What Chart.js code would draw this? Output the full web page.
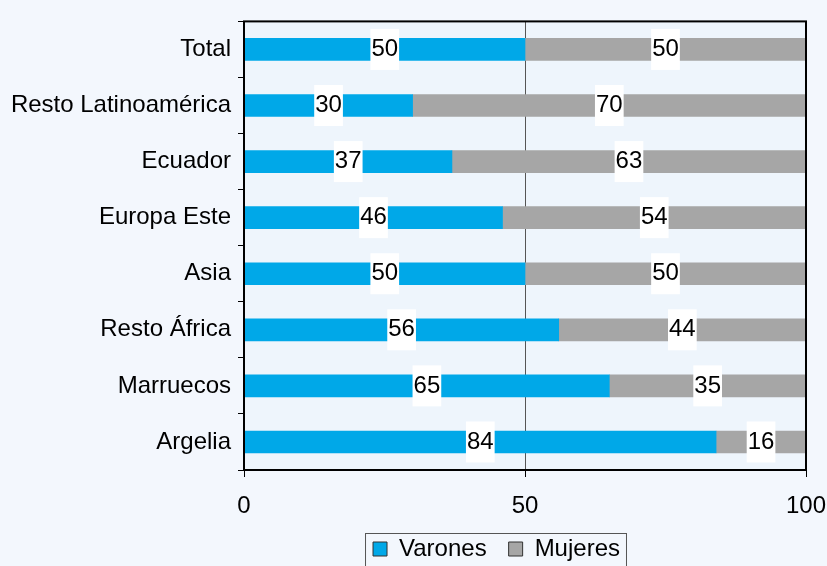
<!DOCTYPE html>
<html>
<head>
<meta charset="utf-8">
<script src="https://cdn.jsdelivr.net/npm/chart.js@4"></script>
<style>
  html, body { margin: 0; padding: 0; background: #f3f7fd; }
  #wrap { width: 827px; height: 566px; }
</style>
</head>
<body>
<div id="wrap"><canvas id="origenChart" width="827" height="566"></canvas></div>
<script>
// datos: % por sexo según origen
const categorias = ['Total', 'Resto Latinoamérica', 'Ecuador', 'Europa Este', 'Asia', 'Resto África', 'Marruecos', 'Argelia'];
const varones = [50, 30, 37, 46, 50, 56, 65, 84];
const mujeres = [50, 70, 63, 54, 50, 44, 35, 16];
const ticksX = [0, 50, 100];

const FONT = '"Liberation Sans", Arial, Helvetica, sans-serif';

// fondo y marco del área de trazado
const marcoPlugin = {
    id: 'marco',
    afterLayout(chart) {
        // la leyenda va centrada algo a la izquierda del área
        const lg = chart.legend;
        if (lg) { lg.left = 187; lg.right = 806; }
    },
    beforeDraw(chart) {
        const { ctx, chartArea: a } = chart;
        ctx.save();
        ctx.fillStyle = '#eef5fc';
        ctx.fillRect(a.left, a.top, a.right - a.left, a.bottom - a.top);
        ctx.restore();
    },
    afterDatasetsDraw(chart) {
        const { ctx, chartArea: a } = chart;
        ctx.save();
        ctx.strokeStyle = '#000';
        ctx.lineWidth = 2;
        ctx.strokeRect(a.left, a.top, a.right - a.left, a.bottom - a.top);
        ctx.restore();
    },
    afterDraw(chart) {
        // borde alrededor de la leyenda
        const lg = chart.legend;
        if (!lg || !lg.legendHitBoxes.length) return;
        const boxes = lg.legendHitBoxes;
        const left = boxes[0].left - 8;
        const last = boxes[boxes.length - 1];
        const right = last.left + last.width + 6;
        const top = boxes[0].top - 4;
        const ctx = chart.ctx;
        ctx.save();
        ctx.strokeStyle = '#555';
        ctx.lineWidth = 1;
        ctx.strokeRect(left + 0.5, top + 0.5, right - left, 40);
        ctx.restore();
    }
};

// etiquetas de valor con fondo blanco
const etiquetasPlugin = {
    id: 'etiquetas',
    afterDatasetsDraw(chart) {
        const ctx = chart.ctx;
        ctx.save();
        ctx.font = '24px ' + FONT;
        ctx.textAlign = 'center';
        ctx.textBaseline = 'middle';
        chart.data.datasets.forEach((ds, i) => {
            const meta = chart.getDatasetMeta(i);
            meta.data.forEach((el, j) => {
                const txt = String(ds.data[j]);
                const cx = (el.x + el.base) / 2;
                const cy = el.y;
                const w = ctx.measureText(txt).width + 2;
                ctx.fillStyle = '#fff';
                ctx.fillRect(cx - w / 2, cy - 20.5, w, 41);
                ctx.fillStyle = '#000';
                ctx.fillText(txt, cx, cy);
            });
        });
        ctx.restore();
    }
};

const ctx = document.getElementById('origenChart').getContext('2d');
new Chart(ctx, {
    type: 'bar',
    data: {
        labels: categorias,
        datasets: [
            { label: 'Varones', data: varones, backgroundColor: '#00a8e8', borderWidth: 0, barThickness: 22 },
            { label: 'Mujeres', data: mujeres, backgroundColor: '#a6a6a6', borderWidth: 0, barThickness: 22 }
        ]
    },
    options: {
        indexAxis: 'y',
        responsive: false,
        animation: false,
        layout: { padding: { left: 0, right: 21, top: 12, bottom: -5 } },
        scales: {
            x: {
                stacked: true,
                min: 0,
                max: 100,
                afterBuildTicks: s => { s.ticks = ticksX.map(v => ({ value: v })); },
                afterFit: s => { s.height = 45; s.paddingLeft = 0; s.paddingRight = 0; },
                border: { display: false },
                grid: {
                    color: c => (c.tick && c.tick.value === 50 ? '#555' : 'rgba(0,0,0,0)'),
                    tickColor: '#000',
                    tickLength: 7,
                    lineWidth: 1
                },
                ticks: { color: '#000', font: { family: FONT, size: 24 }, padding: 15, maxRotation: 0 }
            },
            y: {
                stacked: true,
                afterFit: s => { s.width = 244; },
                border: { display: false },
                grid: { drawOnChartArea: false, tickColor: '#000', tickLength: 6, offset: true },
                ticks: { color: '#000', font: { family: FONT, size: 24 }, padding: 7 }
            }
        },
        plugins: {
            legend: {
                position: 'bottom',
                labels: {
                    color: '#000',
                    font: { family: FONT, size: 24 },
                    boxWidth: 14,
                    boxHeight: 14,
                    padding: 22,
                    generateLabels: function(chart) {
                        const items = Chart.defaults.plugins.legend.labels.generateLabels(chart);
                        items.forEach(it => { it.strokeStyle = '#333'; it.lineWidth = 1; });
                        return items;
                    }
                }
            },
            tooltip: { enabled: false }
        }
    },
    plugins: [marcoPlugin, etiquetasPlugin]
});
</script>
</body>
</html>
